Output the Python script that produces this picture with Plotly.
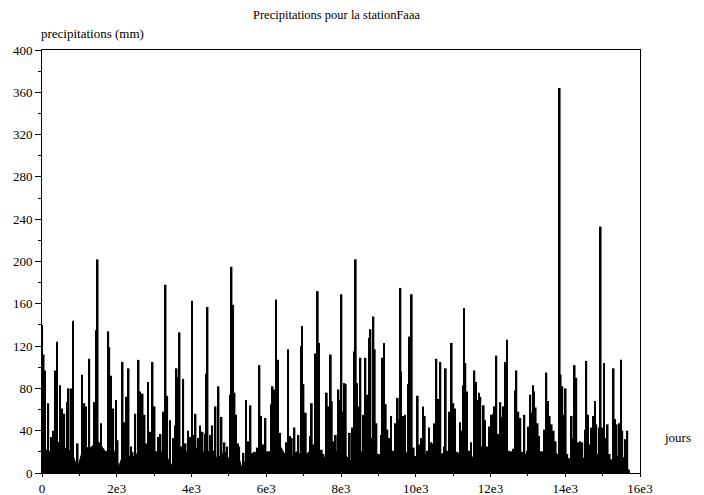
import plotly.graph_objects as go

# Daily precipitation peaks (day index, mm)
spike_days = [
    5, 45, 80, 169, 241, 303, 348, 401, 481, 535, 597, 686, 713, 775, 829, 954,
    1070, 1132, 1177, 1266, 1399, 1444, 1489, 1578, 1774, 1800, 1845, 1907, 1979,
    2023, 2157, 2202, 2246, 2318, 2380, 2424, 2496,
    2585, 2621, 2692, 2745, 2781, 2834, 2906, 2959, 3013, 3102, 3173, 3244, 3307,
    3351, 3423, 3512, 3556, 3601, 3637, 3681, 3717, 3779, 3842, 3904, 3958, 4011,
    4064, 4109, 4171, 4225, 4296, 4359, 4403, 4430, 4492, 4555, 4599, 4644, 4724,
    4804, 4885, 4956, 5027, 5072, 5116,
    5152, 5188, 5241, 5277, 5348, 5393, 5455, 5508, 5580, 5633, 5687, 5758, 5820,
    5865, 5927, 5981, 6043, 6132, 6168, 6222, 6257, 6311, 6373, 6436, 6489, 6542,
    6587, 6632, 6685, 6756, 6819, 6863, 6926, 6961, 6997, 7059, 7113, 7175, 7220,
    7264, 7309, 7380, 7416, 7487, 7532, 7621, 7665, 7728,
    7755, 7808, 7862, 7933, 7987, 8013, 8058, 8093, 8129, 8191, 8236, 8307, 8352,
    8396, 8432, 8485, 8521, 8566, 8601, 8655, 8708, 8753, 8789, 8824, 8869, 8904,
    8949, 9003, 9038, 9074, 9110, 9154, 9199, 9243, 9288, 9341, 9395, 9466, 9519,
    9555, 9591, 9609, 9662, 9716, 9769, 9805, 9840, 9894, 9947, 10001, 10054,
    10090, 10152, 10197, 10242, 10304, 10357,
    10411, 10455, 10500, 10553, 10607, 10660, 10714, 10767, 10803, 10857, 10892,
    10928, 10963, 11008, 11053, 11124, 11186, 11231, 11267, 11293, 11329, 11373,
    11427, 11480, 11534, 11570, 11614, 11659, 11694, 11730, 11774, 11819, 11855,
    11908, 11971, 12015, 12069, 12104, 12158, 12211, 12265, 12300, 12354, 12407,
    12443, 12488, 12550, 12603, 12657, 12693, 12746, 12800, 12862, 12907, 12978,
    13014, 13067, 13103, 13138, 13165, 13210, 13263, 13299, 13343, 13406, 13441,
    13495, 13539, 13584, 13637, 13691, 13744, 13798, 13833, 13851, 13878, 13923,
    13958, 14012, 14056, 14119, 14172, 14217, 14252, 14297, 14350, 14404, 14457,
    14529, 14564, 14609, 14653, 14707, 14743, 14796, 14832, 14885, 14921, 14948,
    14992, 15037, 15081, 15135, 15188, 15242, 15295, 15331, 15376, 15438, 15491,
    15527, 15572, 15616, 15661, 15705,
]
spike_mm = [
    140, 112, 97, 66, 34, 40, 97, 124, 83, 61, 56, 67, 80, 80, 144, 28,
    93, 66, 63, 108, 67, 135, 202, 47, 134, 119, 92, 61, 69,
    31, 105, 48, 72, 99, 25, 20, 56,
    107, 77, 75, 55, 28, 86, 39, 105, 63, 34, 37, 58, 178,
    73, 50, 33, 45, 99, 91, 133, 25, 89, 28, 40, 34, 163,
    36, 56, 33, 45, 39, 37, 94, 157, 36, 45, 21, 63, 82,
    53, 29, 25, 74, 195, 159,
    76, 55, 28, 25, 5, 19, 69, 30, 64, 16, 11, 24, 102,
    54, 27, 52, 18, 65, 82, 79, 164, 107, 38, 14, 19, 29,
    117, 35, 33, 43, 14, 36, 120, 139, 84, 57, 8, 35, 66,
    27, 113, 172, 123, 22, 18, 76, 63, 112,
    68, 30, 36, 79, 69, 169, 58, 85, 84, 7, 38, 43, 115,
    202, 85, 63, 109, 8, 55, 109, 74, 128, 136, 33, 148, 117,
    47, 16, 18, 36, 109, 123, 65, 41, 33, 54, 21, 47, 71,
    51, 175, 96, 54, 55, 14, 84, 129, 169, 24, 16, 73,
    27, 33, 63, 54, 21, 43,
    29, 28, 47, 108, 70, 105, 10, 25, 99, 21, 58,
    42, 123, 66, 61, 12, 48, 40, 83, 156, 104, 77,
    21, 29, 6, 97, 86, 69, 76, 72, 25, 64, 50,
    25, 44, 55, 56, 63, 111, 37, 67, 53, 63, 105,
    126, 21, 12, 23, 78, 97, 58, 52, 20, 55, 21,
    44, 74, 57, 83, 77, 62, 47, 35, 11, 18, 41,
    95, 68, 54, 46, 40, 30, 18, 87, 364, 93, 82,
    55, 80, 18, 14, 54, 33, 102, 90, 29, 30, 29,
    41, 106, 55, 27, 43, 54, 68, 46, 18, 43, 233,
    43, 104, 33, 46, 18, 13, 99, 51, 46, 47, 107,
    40, 14, 32, 40, 3,
]

# Dense low-rainfall mass near the bottom (day index, mm)
base_days = [
    0, 200, 400, 600, 800, 950, 1100, 1300, 1500, 1700, 1900, 2050, 2200, 2400,
    2600, 2700, 2900, 3100, 3300, 3450, 3600, 3800, 3950, 4100, 4300, 4500, 4700,
    4900, 5050, 5200, 5350, 5500, 5700, 5850, 6000, 6200, 6400, 6600, 6800, 7000,
    7150, 7300, 7450, 7650, 7800, 8000, 8200, 8350, 8500, 8700, 8900, 9100, 9250,
    9400, 9600, 9800, 10000, 10200, 10400, 10600, 10800, 10950, 11100, 11300,
    11450, 11650, 11800, 12000, 12200, 12400, 12600, 12750, 12900, 13000, 13200,
    13400, 13550, 13700, 13850, 14000, 14150, 14300, 14500, 14700, 14850, 15000,
    15200, 15400, 15600, 15700,
]
base_mm = [
    24, 20, 30, 24, 20, 4, 24, 24, 30, 20, 24, 6, 20, 14,
    20, 24, 20, 20, 20, 6, 20, 24, 14, 24, 20, 20, 14,
    20, 10, 24, 4, 16, 20, 6, 20, 20, 24, 10, 20, 16,
    20, 6, 20, 10, 20, 20, 14, 6, 20, 20, 20, 14, 6,
    20, 16, 20, 14, 16, 20, 16, 20, 6, 20, 14,
    20, 4, 20, 20, 22, 20, 20, 4, 16, 20, 20,
    20, 4, 20, 16, 14, 4, 16, 14, 16, 14, 14,
    6, 16, 14, 0,
]

x_tickvals = [0, 2000, 4000, 6000, 8000, 10000, 12000, 14000, 16000]
x_ticktext = ["0", "2e3", "4e3", "6e3", "8e3", "10e3", "12e3", "14e3", "16e3"]
y_tickvals = [0, 40, 80, 120, 160, 200, 240, 280, 320, 360, 400]

FONT = "Liberation Serif, Times New Roman, DejaVu Serif, serif"

fig = go.Figure()
fig.add_trace(go.Scatter(
    x=base_days, y=base_mm, mode="lines", fill="tozeroy",
    line=dict(color="black", width=1), fillcolor="black",
    hoverinfo="skip", showlegend=False,
))
fig.add_trace(go.Bar(
    x=spike_days, y=spike_mm, width=46,
    marker=dict(color="black", line=dict(width=0)),
    showlegend=False,
))

fig.update_layout(
    width=704, height=495,
    margin=dict(l=34, r=72, t=42, b=30),
    paper_bgcolor="white", plot_bgcolor="white",
    font=dict(family=FONT, size=13, color="black"),
    showlegend=False,
    annotations=[
        dict(text="Precipitations pour la stationFaaa", xref="paper", yref="paper",
             x=0.4925, y=1.083, xanchor="center", yanchor="middle",
             showarrow=False, font=dict(family=FONT, size=12.5)),
        dict(text="precipitations (mm)", xref="paper", yref="paper",
             x=-0.005, y=1.04, xanchor="left", yanchor="middle",
             showarrow=False, font=dict(family=FONT, size=13)),
        dict(text="jours", xref="paper", yref="paper",
             x=1.089, y=0.085, xanchor="right", yanchor="middle",
             showarrow=False, font=dict(family=FONT, size=13)),
    ],
)
fig.update_xaxes(
    range=[0, 16000], tickvals=x_tickvals, ticktext=x_ticktext,
    showgrid=False, zeroline=False, automargin=False,
    showline=True, linecolor="black", linewidth=1, mirror=True,
    ticks="outside", ticklen=3, tickcolor="black",
    minor=dict(dtick=1000, tick0=0, ticks="outside", ticklen=2, tickcolor="black"),
    tickfont=dict(family=FONT, size=13),
)
fig.update_yaxes(
    range=[0, 400], tickvals=y_tickvals,
    showgrid=False, zeroline=False, automargin=False,
    showline=True, linecolor="black", linewidth=1, mirror=True,
    ticks="outside", ticklen=6, tickcolor="black",
    minor=dict(dtick=20, tick0=0, ticks="outside", ticklen=3, tickcolor="black"),
    tickfont=dict(family=FONT, size=13),
)

fig.write_html("out.html")
